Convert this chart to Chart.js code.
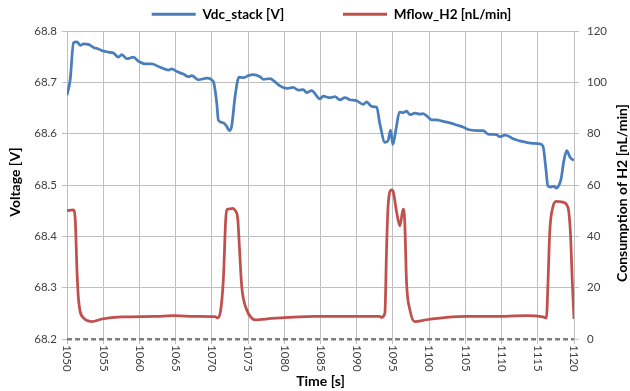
<!DOCTYPE html>
<html>
<head>
<meta charset="utf-8">
<script src="https://cdn.jsdelivr.net/npm/chart.js@4.4.1/dist/chart.umd.min.js"></script>
<style>
  html, body { margin: 0; padding: 0; background: #fff; }
</style>
</head>
<body>
<canvas id="myChart" width="630" height="391"></canvas>
<script>
// series names and axis labels
const seriesNames = ["Vdc_stack [V]", "Mflow_H2 [nL/min]"];
const xTitle = "Time [s]";
const yTitle = "Voltage [V]";
const y2Title = "Consumption of H2 [nL/min]";

// tick labels
const timeTicks = [1050, 1055, 1060, 1065, 1070, 1075, 1080, 1085, 1090, 1095, 1100, 1105, 1110, 1115, 1120];
const voltTicks = [68.2, 68.3, 68.4, 68.5, 68.6, 68.7, 68.8];
const flowTicks = [0, 20, 40, 60, 80, 100, 120];

// Vdc_stack
const voltTime = [
  1050, 1050.44, 1050.9, 1051.37, 1051.82, 1052.28, 1052.97, 1053.66, 1054.34, 1055.03,
  1055.72, 1056.41, 1057.1, 1057.57, 1058.26, 1059.17, 1059.86, 1060.79, 1061.71, 1062.62,
  1064.0, 1064.47, 1065.16, 1066.07, 1066.76, 1067.23, 1068.14, 1069.3, 1070.21, 1070.68,
  1070.9, 1071.59, 1072.06, 1072.41, 1072.74, 1073.2, 1073.75, 1074.34, 1075.03, 1075.72,
  1076.65, 1077.1, 1078.03, 1078.72, 1079.41, 1080.33, 1081.24, 1081.93, 1082.62, 1083.09,
  1083.78, 1084.92, 1085.38, 1086.3, 1086.99, 1087.68, 1088.37, 1089.06, 1089.99, 1090.9,
  1091.37, 1092.06, 1092.75, 1093.2, 1093.9, 1094.34, 1094.68, 1094.99, 1095.45, 1095.9,
  1096.41, 1096.88, 1097.34, 1098.03, 1098.72, 1099.17, 1099.86, 1100.33, 1101.02, 1101.93,
  1102.86, 1103.78, 1104.69, 1105.38, 1106.54, 1107.45, 1108.14, 1109.3, 1109.75, 1110.44,
  1111.13, 1111.59, 1112.51, 1113.43, 1114.35, 1115.28, 1115.73, 1116.1, 1116.4, 1116.8,
  1117.26, 1117.5, 1118.2, 1118.6, 1119.0, 1119.5, 1120
];
const voltage = [
  68.675, 68.705, 68.777, 68.779, 68.772, 68.775, 68.774, 68.768, 68.765, 68.761,
  68.759, 68.757, 68.749, 68.754, 68.746, 68.749, 68.741, 68.736, 68.736, 68.731,
  68.724, 68.726, 68.721, 68.716, 68.711, 68.713, 68.705, 68.708, 68.701, 68.659,
  68.626, 68.621, 68.614, 68.606, 68.615, 68.672, 68.710, 68.709, 68.713, 68.715,
  68.711, 68.706, 68.707, 68.701, 68.693, 68.688, 68.690, 68.685, 68.686, 68.680,
  68.684, 68.668, 68.673, 68.670, 68.672, 68.666, 68.670, 68.666, 68.664, 68.657,
  68.662, 68.653, 68.652, 68.619, 68.583, 68.587, 68.607, 68.579, 68.611, 68.642,
  68.641, 68.644, 68.637, 68.640, 68.638, 68.639, 68.632, 68.627, 68.627, 68.624,
  68.621, 68.617, 68.613, 68.608, 68.606, 68.606, 68.599, 68.598, 68.594, 68.597,
  68.594, 68.590, 68.586, 68.583, 68.581, 68.580, 68.575, 68.534, 68.498, 68.496,
  68.498, 68.494, 68.511, 68.547, 68.567, 68.553, 68.548
];

// Mflow_H2
const flowTime = [
  1050, 1050.86, 1051.13, 1051.37, 1051.59, 1052.28, 1053.43, 1054.81, 1057.57, 1062.17,
  1064.92, 1067.68, 1070.44, 1070.81, 1071.23, 1071.59, 1071.92, 1072.1, 1072.51, 1072.92,
  1073.2, 1073.57, 1073.82, 1074.12, 1074.81, 1075.5, 1075.96, 1078.26, 1080.55, 1084.23,
  1090.44, 1093.2, 1093.43, 1093.89, 1094.12, 1094.34, 1094.81, 1095.03, 1095.5, 1095.96,
  1096.41, 1096.63, 1096.88, 1097.34, 1098.03, 1099.64, 1102.4, 1105.16, 1108.83, 1113.43,
  1115.72, 1116.19, 1116.41, 1116.65, 1117.1, 1117.57, 1118.48, 1119.17, 1119.5, 1119.77,
  1120
];
const flow = [
  50.0, 50.3, 47, 27.2, 15.4, 8.2, 6.8, 7.8, 8.6, 8.8,
  9.1, 8.8, 8.7, 8.2, 11.4, 23.3, 47, 50.5, 50.7, 50.9,
  50.1, 47, 35, 20.6, 11.4, 8.2, 7.5, 8.0, 8.4, 8.8,
  8.8, 8.8, 8.4, 10.1, 35, 52.2, 58.1, 57.5, 49.6, 44.1,
  50.6, 45.7, 22, 11.4, 6.8, 7.5, 8.4, 8.8, 8.8, 9.1,
  8.6, 8.2, 22, 41.7, 51.6, 53.6, 53.3, 51.2, 41.7, 22,
  7.8
];

let colorHex = ["#4A7EBB", "#C0504D"];
const FONT = "Lato, 'Open Sans', sans-serif";
const gridColor = "#bfbfbf";
const clear = "rgba(0,0,0,0)";

Chart.defaults.font.family = FONT;

// x tick labels read top to bottom and the right title reads bottom to top,
// which chart.js can't rotate that way by itself
const rotatedText = {
  id: "rotatedText",
  afterDraw(chart) {
    const { ctx, scales: { x } } = chart;
    const area = chart.chartArea;
    ctx.save();
    ctx.fillStyle = "#404040";
    ctx.font = "11.5px " + FONT;
    ctx.textAlign = "left";
    ctx.textBaseline = "middle";
    timeTicks.forEach(v => {
      ctx.save();
      ctx.translate(x.getPixelForValue(v), x.top + 6);
      ctx.rotate(Math.PI / 2);
      ctx.fillText(String(v), 0, 0);
      ctx.restore();
    });

    ctx.fillStyle = "#000";
    ctx.font = "bold 14px " + FONT;
    ctx.textAlign = "center";
    ctx.textBaseline = "middle";
    const midY = (area.top + area.bottom) / 2;

    ctx.save();
    ctx.translate(15, midY - 3);
    ctx.rotate(-Math.PI / 2);
    ctx.fillText(yTitle, 0, 0);
    ctx.restore();

    ctx.save();
    ctx.translate(622, midY + 8);
    ctx.rotate(-Math.PI / 2);
    ctx.fillText(y2Title, 0, 0);
    ctx.restore();

    ctx.restore();
  }
};

let ctx = document.getElementById("myChart").getContext("2d");

let myChart = new Chart(ctx, {
  type: "line",
  data: {
    datasets: [
      {
        label: seriesNames[0],
        data: voltTime.map((t, i) => ({ x: t, y: voltage[i] })),
        borderColor: colorHex[0],
        backgroundColor: colorHex[0],
        borderWidth: 2.75,
        pointRadius: 0,
        cubicInterpolationMode: "monotone",
        yAxisID: "y",
      },
      {
        label: seriesNames[1],
        data: flowTime.map((t, i) => ({ x: t, y: flow[i] })),
        borderColor: colorHex[1],
        backgroundColor: colorHex[1],
        borderWidth: 2.75,
        pointRadius: 0,
        cubicInterpolationMode: "monotone",
        yAxisID: "y2",
      },
    ],
  },
  options: {
    responsive: false,
    animation: false,
    layout: { padding: { left: 33, top: 3.5, right: 0, bottom: 0 } },
    plugins: {
      tooltip: { enabled: false },
      legend: {
        position: "top",
        labels: {
          boxWidth: 44,
          boxHeight: 3,
          padding: 4,
          color: "#000",
          font: { size: 13.5, weight: "bold" },
          generateLabels(chart) {
            const items = Chart.defaults.plugins.legend.labels.generateLabels(chart);
            items.forEach(it => { it.lineWidth = 0; });
            // empty item to open the gap between the two entries
            items.splice(1, 0, {
              text: "",
              fillStyle: clear,
              strokeStyle: clear,
              lineWidth: 0,
              hidden: false,
            });
            return items;
          },
        },
      },
    },
    scales: {
      x: {
        type: "linear",
        min: 1050,
        max: 1120,
        afterBuildTicks: s => { s.ticks = timeTicks.map(v => ({ value: v })); },
        afterFit: s => { s.height = 52; },
        ticks: { display: false },
        grid: { color: gridColor, tickLength: 5 },
        border: { display: false },
        title: {
          display: true,
          text: xTitle,
          color: "#000",
          font: { size: 14, weight: "bold" },
          padding: { top: 0, bottom: 1 },
        },
      },
      y: {
        position: "left",
        min: 68.2,
        max: 68.8,
        afterBuildTicks: s => { s.ticks = voltTicks.map(v => ({ value: v })); },
        afterFit: s => { s.width = 34; },
        ticks: {
          callback: v => v.toFixed(1),
          color: "#404040",
          font: { size: 11.5 },
          padding: 5,
        },
        grid: {
          color: c => (c.tick && c.tick.value === 68.2 ? clear : gridColor),
          tickColor: gridColor,
          tickLength: 5,
        },
        border: { display: false },
      },
      y2: {
        position: "right",
        min: 0,
        max: 120,
        afterBuildTicks: s => { s.ticks = flowTicks.map(v => ({ value: v })); },
        afterFit: s => { s.width = 56; },
        ticks: {
          color: "#404040",
          font: { size: 11.5 },
          padding: 8,
        },
        // only the zero line is drawn across the plot: the dashed base line
        grid: {
          drawOnChartArea: true,
          color: c => (c.tick && c.tick.value === 0 ? "#7f7f7f" : clear),
          lineWidth: c => (c.tick && c.tick.value === 0 ? 2.5 : 1),
          tickColor: gridColor,
          tickWidth: 1,
          tickLength: 5,
        },
        border: { display: false, dash: [5, 3] },
      },
    },
  },
  plugins: [rotatedText],
});
</script>
</body>
</html>
